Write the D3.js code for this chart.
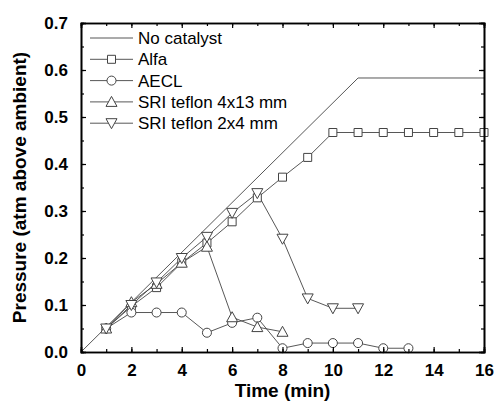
<!DOCTYPE html>
<html>
<head>
<meta charset="utf-8">
<script src="https://cdn.jsdelivr.net/npm/d3@7"></script>
<style>
body { margin: 0; background: #fff; }
svg { font-family: "Liberation Sans", Arial, sans-serif; }
</style>
</head>
<body>
<svg id="chart" width="497" height="410"></svg>
<script>
// data
let noCatTime = [0, 11, 16];
let noCatP = [0, 0.583, 0.583];

let alfaTime = [1, 2, 3, 4, 5, 6, 7, 8, 9, 10, 11, 12, 13, 14, 15, 16];
let alfaP = [0.05, 0.097, 0.137, 0.19, 0.232, 0.277, 0.328, 0.372, 0.414, 0.467, 0.467, 0.467, 0.467, 0.467, 0.467, 0.467];

let aeclTime = [1, 2, 3, 4, 5, 6, 7, 8, 9, 10, 11, 12, 13];
let aeclP = [0.05, 0.084, 0.084, 0.084, 0.041, 0.062, 0.073, 0.008, 0.019, 0.019, 0.019, 0.008, 0.008];

let sri413Time = [1, 2, 3, 4, 5, 6, 7, 8];
let sri413P = [0.05, 0.106, 0.145, 0.19, 0.224, 0.074, 0.053, 0.043];

let sri24Time = [1, 2, 3, 4, 5, 6, 7, 8, 9, 10, 11];
let sri24P = [0.05, 0.1, 0.148, 0.2, 0.245, 0.296, 0.338, 0.241, 0.114, 0.093, 0.093];

let seriesNames = ['No catalyst', 'Alfa', 'AECL', 'SRI teflon 4x13 mm', 'SRI teflon 2x4 mm'];
let xTicks = [0, 2, 4, 6, 8, 10, 12, 14, 16];
let yTicks = [0.0, 0.1, 0.2, 0.3, 0.4, 0.5, 0.6, 0.7];

let series = [
    {name: seriesNames[0], t: noCatTime, p: noCatP, marker: null},
    {name: seriesNames[1], t: alfaTime, p: alfaP, marker: 'square'},
    {name: seriesNames[2], t: aeclTime, p: aeclP, marker: 'circle'},
    {name: seriesNames[3], t: sri413Time, p: sri413P, marker: 'up'},
    {name: seriesNames[4], t: sri24Time, p: sri24P, marker: 'down'}
];

let plotLeft = 81, plotRight = 484, plotTop = 23, plotBottom = 352;

let x = d3.scaleLinear().domain([0, 16]).range([plotLeft, plotRight]);
let y = d3.scaleLinear().domain([0, 0.7]).range([plotBottom, plotTop]);

let svg = d3.select('#chart');
let ink = '#444';

// Lines
let line = d3.line().x(d => x(d[0])).y(d => y(d[1]));

series.forEach(function (s) {
    let pts = s.t.map((t, i) => [t, s.p[i]]);
    svg.append('path')
        .datum(pts)
        .attr('d', line)
        .attr('fill', 'none')
        .attr('stroke', ink)
        .attr('stroke-width', 0.9);
});

// marker shapes
function markerPath(type) {
    if (type == 'square') return 'M-4,-4H4V4H-4Z';
    if (type == 'circle') return d3.symbol().type(d3.symbolCircle).size(64)();
    if (type == 'up') return 'M0,-5.5L5.5,4.5L-5.5,4.5Z';
    if (type == 'down') return 'M0,5.5L5.5,-4.5L-5.5,-4.5Z';
    return '';
}

series.forEach(function (s) {
    if (!s.marker) return;
    let pts = s.t.map((t, i) => [t, s.p[i]]);
    svg.append('g')
        .selectAll('path')
        .data(pts)
        .join('path')
        .attr('transform', d => 'translate(' + x(d[0]) + ',' + y(d[1]) + ')')
        .attr('d', markerPath(s.marker))
        .attr('fill', 'white')
        .attr('stroke', ink)
        .attr('stroke-width', 1);
});

// Axes, ticks inward on all four sides
let xMinor = d3.range(0, 17, 1);
let yMinor = d3.range(0, 0.701, 0.05);

svg.append('g')
    .attr('transform', 'translate(0,' + plotBottom + ')')
    .call(d3.axisBottom(x).tickValues(xMinor).tickSize(-3).tickFormat(''));
svg.append('g')
    .attr('transform', 'translate(0,' + plotBottom + ')')
    .attr('class', 'xaxis')
    .call(d3.axisBottom(x).tickValues(xTicks).tickSize(-5).tickPadding(12).tickFormat(d3.format('d')));
svg.append('g')
    .attr('transform', 'translate(0,' + plotTop + ')')
    .call(d3.axisTop(x).tickValues(xMinor).tickSize(-3).tickFormat(''));
svg.append('g')
    .attr('transform', 'translate(0,' + plotTop + ')')
    .call(d3.axisTop(x).tickValues(xTicks).tickSize(-5).tickFormat(''));

svg.append('g')
    .attr('transform', 'translate(' + plotLeft + ',0)')
    .call(d3.axisLeft(y).tickValues(yMinor).tickSize(-3).tickFormat(''));
svg.append('g')
    .attr('transform', 'translate(' + plotLeft + ',0)')
    .attr('class', 'yaxis')
    .call(d3.axisLeft(y).tickValues(yTicks).tickSize(-5).tickPadding(13).tickFormat(d3.format('.1f')));
svg.append('g')
    .attr('transform', 'translate(' + plotRight + ',0)')
    .call(d3.axisRight(y).tickValues(yMinor).tickSize(-3).tickFormat(''));
svg.append('g')
    .attr('transform', 'translate(' + plotRight + ',0)')
    .call(d3.axisRight(y).tickValues(yTicks).tickSize(-5).tickFormat(''));

svg.selectAll('.domain').attr('stroke', '#000').attr('stroke-width', 1.6);
svg.selectAll('.tick line').attr('stroke', '#000').attr('stroke-width', 1.2);
svg.selectAll('.xaxis text, .yaxis text')
    .attr('font-size', '17px')
    .attr('font-weight', 'bold')
    .attr('fill', '#000')
    .attr('font-family', '"Liberation Sans", Arial, sans-serif');

// Axis titles
svg.append('text')
    .attr('x', (plotLeft + plotRight) / 2)
    .attr('y', 397)
    .attr('text-anchor', 'middle')
    .attr('font-size', '19px')
    .attr('font-weight', 'bold')
    .text('Time (min)');

svg.append('text')
    .attr('transform', 'translate(26,' + (plotTop + plotBottom) / 2 + ') rotate(-90)')
    .attr('text-anchor', 'middle')
    .attr('font-size', '19px')
    .attr('font-weight', 'bold')
    .text('Pressure (atm above ambient)');

// Legend
let legend = svg.append('g')
    .selectAll('g')
    .data(series)
    .join('g')
    .attr('transform', (d, i) => 'translate(90,' + (38 + i * 21.3) + ')');

legend.append('line')
    .attr('x1', 0).attr('x2', 43)
    .attr('stroke', ink).attr('stroke-width', 0.9);

legend.filter(d => d.marker)
    .append('path')
    .attr('transform', 'translate(21.5,0)')
    .attr('d', d => markerPath(d.marker))
    .attr('fill', 'white')
    .attr('stroke', ink);

legend.append('text')
    .attr('x', 48)
    .attr('y', 6)
    .attr('font-size', '17px')
    .text(d => d.name);
</script>
</body>
</html>
